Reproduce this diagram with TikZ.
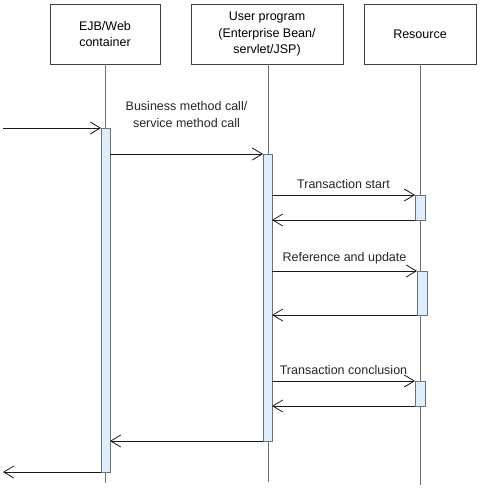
\documentclass[tikz,border=0pt]{standalone}
\usepackage{fontspec}
\setmainfont{Liberation Sans}
\usetikzlibrary{arrows.meta}

\definecolor{barblue}{HTML}{DDEEFF}
\definecolor{linegray}{HTML}{707070}

\begin{document}
\begin{tikzpicture}[x=1pt,y=-1pt,>={Straight Barb[length=10pt,width=12pt]},
			line width=0.8pt, font=\fontsize{12.5}{16.5}\selectfont,
			actor/.style={draw=black!75,minimum height=60pt,align=center,inner sep=0pt},
			lifeline/.style={draw=linegray},
			activation/.style={draw=linegray,fill=barblue,minimum width=9pt,inner sep=0pt,outer sep=0pt},
			msg/.style={->,draw=black!90},
			msglabel/.style={above,yshift=3pt,text=black!85}]

			\useasboundingbox (0,0) rectangle (479,489);

			\node [actor,minimum width=110pt] at (105,34) (ejb) {EJB/Web\\container};
			\node [actor,minimum width=152pt] at (267,34) (user) {User program\\(Enterprise Bean/\\servlet/JSP)};
			\node [actor,minimum width=112pt] at (420,34) (res) {Resource};

			\coordinate (ejbEnd) at (105,483);
			\coordinate (userEnd) at (268,482);
			\coordinate (resEnd) at (420,485);
			\draw[lifeline] (ejb.south) -- (ejbEnd);
			\draw[lifeline] (user.south -| userEnd) -- (userEnd);
			\draw[lifeline] (res.south) -- (resEnd);

			\node [activation,minimum height=344pt] at (105.5,300) (ejbBar) {};
			\node [activation,minimum height=287pt] at (267.5,297.5) (userBar) {};
			\node [activation,minimum width=10pt,minimum height=25pt] at (420,207.5) (resA) {};
			\node [activation,minimum width=10pt,minimum height=44pt] at (422,293) (resB) {};
			\node [activation,minimum width=10pt,minimum height=25pt] at (420,393.5) (resC) {};

			\coordinate (inStart) at (3,128);
			\coordinate (outEnd) at (3,472);

			\draw[msg] (inStart) -- (ejbBar.north west);
			\draw[msg] (ejbBar.east |- userBar.north) -- node[msglabel,yshift=20pt,align=center] (callLabel) {Business method call/\\service method call} (userBar.north west);
			\draw[msg] (userBar.east |- resA.north) -- node[msglabel] (startLabel) {Transaction start} (resA.north west);
			\draw[msg] (resA.south west) -- (userBar.east |- resA.south);
			\draw[msg] (userBar.east |- resB.north) -- node[msglabel] (refLabel) {Reference and update} (resB.north west);
			\draw[msg] (resB.south west) -- (userBar.east |- resB.south);
			\draw[msg] (userBar.east |- resC.north) -- node[msglabel] (endLabel) {Transaction conclusion} (resC.north west);
			\draw[msg] (resC.south west) -- (userBar.east |- resC.south);
			\draw[msg] (userBar.south west) -- (ejbBar.east |- userBar.south);
			\draw[msg] (ejbBar.south west) -- (outEnd);

		\end{tikzpicture}
\end{document}
